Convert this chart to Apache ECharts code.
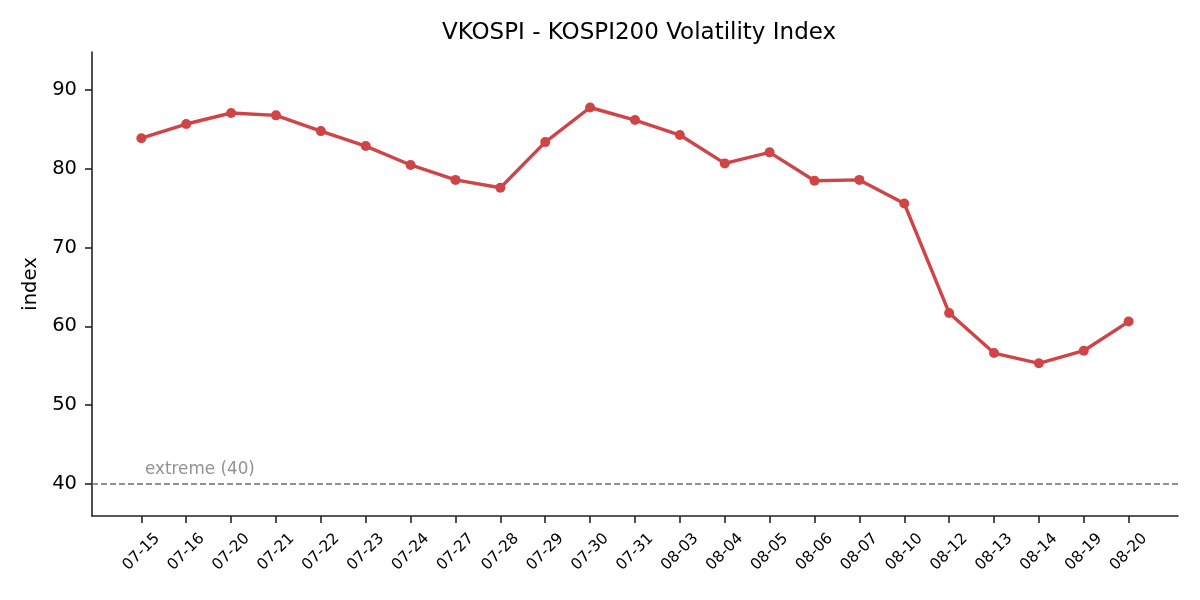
<!DOCTYPE html>
<html><head><meta charset="utf-8">
<script src="https://cdn.jsdelivr.net/npm/echarts@6/dist/echarts.min.js"></script>
<style>html,body{margin:0;padding:0;background:#fff}#c{width:1200px;height:600px}</style>
</head><body><div id="c"></div>
<script>
const categories = ['07-15','07-16','07-20','07-21','07-22','07-23','07-24','07-27','07-28','07-29','07-30','07-31','08-03','08-04','08-05','08-06','08-07','08-10','08-12','08-13','08-14','08-19','08-20'];
const vkospi = [83.9,85.7,87.1,86.8,84.8,82.9,80.5,78.6,77.6,83.4,87.8,86.2,84.3,80.7,82.1,78.5,78.6,75.6,61.7,56.6,55.3,56.9,60.6];
const yTicks = [40,50,60,70,80,90];
const extremeLevel = 40;

const FONT = 'DejaVu Sans';
const chart = echarts.init(document.getElementById('c'));
const idx = categories.map((_, i) => i);
chart.setOption({
  animation: false,
  title: { text: 'VKOSPI - KOSPI200 Volatility Index', left: 634, textAlign: 'center', top: 17,
    textStyle: { fontFamily: FONT, fontSize: 23, fontWeight: 'normal', color: '#000' } },
  grid: { left: 92, right: 22, top: 52, bottom: 84 },
  xAxis: {
    type: 'value', min: -1.1, max: 23.1,
    splitLine: { show: false },
    axisLine: { show: true, onZero: false, lineStyle: { color: '#222', width: 1.6 } },
    axisTick: { show: true, customValues: idx, length: 7, lineStyle: { color: '#222', width: 1.6 } },
    axisLabel: { customValues: idx, rotate: 45, align: 'center', verticalAlign: 'middle',
      fontFamily: FONT, fontSize: 15.5, color: '#000', margin: 36,
      formatter: v => categories[Math.round(v)] }
  },
  yAxis: {
    type: 'value', min: 35.9, max: 94.85,
    name: 'index', nameLocation: 'middle', nameGap: 45, nameRotate: 90,
    nameTextStyle: { fontFamily: FONT, fontSize: 19.5, color: '#000' },
    splitLine: { show: false },
    axisLine: { show: true, onZero: false, lineStyle: { color: '#222', width: 1.6 } },
    axisTick: { show: true, customValues: yTicks, length: 7, lineStyle: { color: '#222', width: 1.6 } },
    axisLabel: { customValues: yTicks, fontFamily: FONT, fontSize: 19.5, color: '#000', margin: 15 }
  },
  series: [{
    type: 'line',
    data: vkospi.map((v, i) => [i, v]),
    symbol: 'circle', symbolSize: 10,
    lineStyle: { color: '#cf4446', width: 3.4 },
    itemStyle: { color: '#cf4446' },
    markLine: {
      silent: true, symbol: 'none',
      lineStyle: { color: '#6c6c7e', type: [6, 3], width: 1.7 },
      label: { show: false },
      data: [{ yAxis: extremeLevel }]
    }
  }, {
    type: 'scatter', data: [[-0.03, extremeLevel]], symbolSize: 0, silent: true,
    label: { show: true, position: 'right', offset: [0, -14], formatter: 'extreme (' + extremeLevel + ')',
      fontFamily: FONT, fontSize: 16.8, color: '#777777' }
  }]
});
</script></body></html>
